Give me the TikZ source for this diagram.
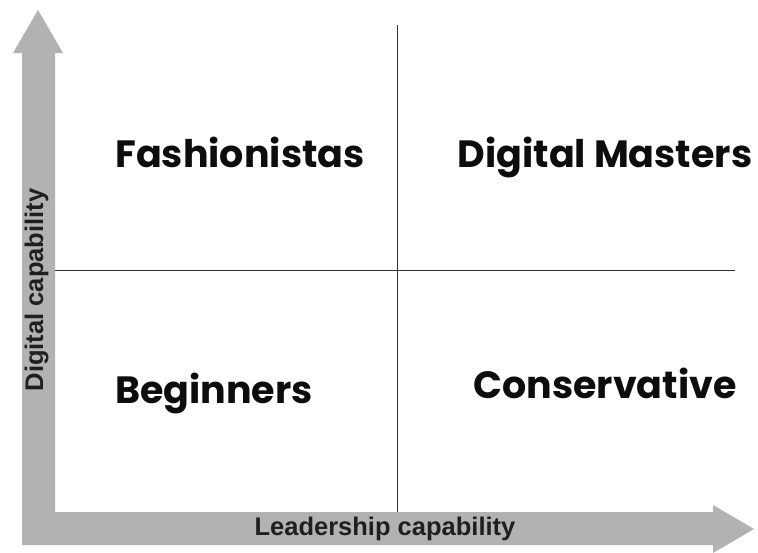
\documentclass[tikz,border=0pt]{standalone}
\usepackage{fontspec}
\setmainfont{Liberation Sans}
\newfontfamily\geofont{Poppins}
\begin{document}
\begin{tikzpicture}[x=1pt,y=-1pt,
  axisfill/.style={fill=black!30,draw=none},
  quad/.style={font=\geofont\bfseries\fontsize{38}{42}\selectfont,text=black!95,inner sep=0pt,anchor=base},
  axislabel/.style={font=\bfseries\fontsize{25.5}{28}\selectfont,text=black!88,inner sep=0pt,anchor=base},
  gridline/.style={draw=black!80,line width=0.8pt}]
\useasboundingbox (0,0) rectangle (758,552);
% axes arrows
\fill[axisfill] (22,545) -- (22,53) -- (13,53) -- (38,10) -- (63,53) -- (55,53) -- (55,512)
  -- (713,512) -- (713,505) -- (754,529) -- (713,553) -- (713,545) -- cycle;
% grid
\coordinate (vt) at (397,25);
\coordinate (vb) at (397,512);
\coordinate (hl) at (55,270);
\coordinate (hr) at (735,270);
\draw[gridline] (vt) -- (vb);
\draw[gridline] (hl) -- (hr);
% labels
\node[quad] (fash) at (240,167) {Fashionistas};
\node[quad] (dm) at (605,167) {Digital Masters};
\node[quad] (beg) at (214,403) {Beginners};
\node[quad] (cons) at (605,398) {Conservative};
\node[axislabel] (xl) at (385,535) {Leadership capability};
\node[axislabel,rotate=90] (yl) at (43,290) {Digital capability};
\end{tikzpicture}
\end{document}
